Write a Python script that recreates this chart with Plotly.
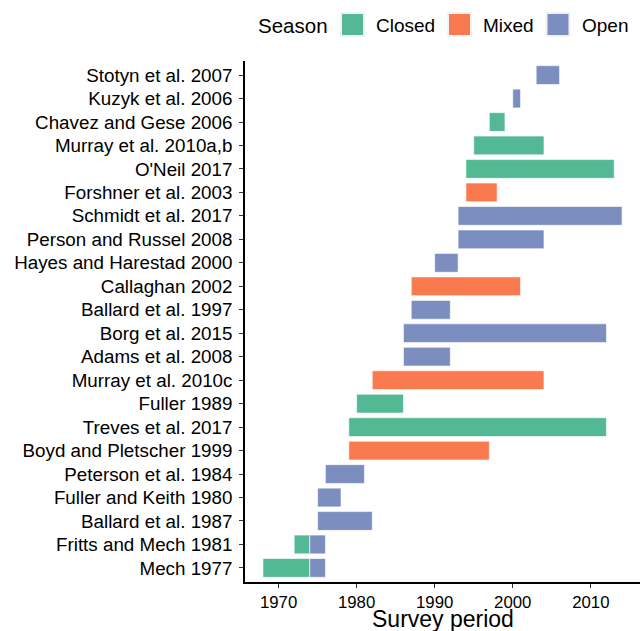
import plotly.graph_objects as go

# ---- data ----
studies = [
    "Stotyn et al. 2007", "Kuzyk et al. 2006", "Chavez and Gese 2006",
    "Murray et al. 2010a,b", "O'Neil 2017", "Forshner et al. 2003",
    "Schmidt et al. 2017", "Person and Russel 2008", "Hayes and Harestad 2000",
    "Callaghan 2002", "Ballard et al. 1997", "Borg et al. 2015",
    "Adams et al. 2008", "Murray et al. 2010c", "Fuller 1989",
    "Treves et al. 2017", "Boyd and Pletscher 1999", "Peterson et al. 1984",
    "Fuller and Keith 1980", "Ballard et al. 1987", "Fritts and Mech 1981",
    "Mech 1977",
]

seg_study = [
    "Stotyn et al. 2007", "Kuzyk et al. 2006", "Chavez and Gese 2006",
    "Murray et al. 2010a,b", "O'Neil 2017", "Forshner et al. 2003",
    "Schmidt et al. 2017", "Person and Russel 2008", "Hayes and Harestad 2000",
    "Callaghan 2002", "Ballard et al. 1997", "Borg et al. 2015",
    "Adams et al. 2008", "Murray et al. 2010c", "Fuller 1989",
    "Treves et al. 2017", "Boyd and Pletscher 1999", "Peterson et al. 1984",
    "Fuller and Keith 1980", "Ballard et al. 1987",
    "Fritts and Mech 1981", "Fritts and Mech 1981",
    "Mech 1977", "Mech 1977",
]
seg_season = [
    "Open", "Open", "Closed",
    "Closed", "Closed", "Mixed",
    "Open", "Open", "Open",
    "Mixed", "Open", "Open",
    "Open", "Mixed", "Closed",
    "Closed", "Mixed", "Open",
    "Open", "Open",
    "Closed", "Open",
    "Closed", "Open",
]
seg_start = [
    2003, 2000, 1997,
    1995, 1994, 1994,
    1993, 1993, 1990,
    1987, 1987, 1986,
    1986, 1982, 1980,
    1979, 1979, 1976,
    1975, 1975,
    1972, 1974,
    1968, 1974,
]
seg_end = [
    2006, 2001, 1999,
    2004, 2013, 1998,
    2014, 2004, 1993,
    2001, 1992, 2012,
    1992, 2004, 1986,
    2012, 1997, 1981,
    1978, 1982,
    1974, 1976,
    1974, 1976,
]

seasons = ["Closed", "Mixed", "Open"]
season_colors = {"Closed": "#53B994", "Mixed": "#FA7A4F", "Open": "#7C8DC0"}
x_ticks = [1970, 1980, 1990, 2000, 2010]
x_title = "Survey period"
legend_title = "Season"

FONT = "Liberation Sans, Arial, sans-serif"

fig = go.Figure()
for s in seasons:
    idx = [i for i, v in enumerate(seg_season) if v == s]
    fig.add_trace(go.Bar(
        orientation="h",
        y=[seg_study[i] for i in idx],
        base=[seg_start[i] for i in idx],
        x=[seg_end[i] - seg_start[i] for i in idx],
        name=s,
        width=0.8,
        marker=dict(color=season_colors[s], line=dict(color="white", width=0.6)),
        showlegend=False,
    ))

# plot area geometry (pixels) for legend placement
L, R, T, B = 245, 640, 61, 582
W_, H_ = R - L, B - T


def px(x):
    return (x - L) / W_


def py(y):
    return (B - y) / H_


shapes = []
annotations = []
annotations.append(dict(x=px(256), y=py(25), xref="paper", yref="paper",
                        text=legend_title, showarrow=False, xanchor="left",
                        yanchor="middle", font=dict(size=20.5, color="black", family=FONT)))
key_x = {"Closed": 340, "Mixed": 447, "Open": 545.5}
for s in seasons:
    kx = key_x[s]
    shapes.append(dict(type="rect", xref="paper", yref="paper",
                       x0=px(kx), x1=px(kx + 25), y0=py(12), y1=py(37),
                       fillcolor="#F2F2F2", line=dict(width=0)))
    shapes.append(dict(type="rect", xref="paper", yref="paper",
                       x0=px(kx + 2), x1=px(kx + 23), y0=py(14), y1=py(35),
                       fillcolor=season_colors[s], line=dict(width=0)))
    annotations.append(dict(x=px(kx + 34), y=py(25), xref="paper", yref="paper",
                            text=s, showarrow=False, xanchor="left", yanchor="middle",
                            font=dict(size=19, color="black", family=FONT)))

# x-axis title
annotations.append(dict(x=0.5, y=py(619), xref="paper", yref="paper",
                        text=x_title, showarrow=False, xanchor="center", yanchor="middle",
                        font=dict(size=23, color="black", family=FONT)))

fig.update_layout(
    width=640, height=631,
    margin=dict(l=L, r=640 - R, t=T, b=631 - B, autoexpand=False),
    barmode="overlay",
    plot_bgcolor="white", paper_bgcolor="white",
    font=dict(family=FONT, color="black"),
    shapes=shapes, annotations=annotations,
    showlegend=False,
)
fig.update_yaxes(
    type="category",
    categoryorder="array",
    categoryarray=studies[::-1],
    range=[-0.6, len(studies) - 0.4],
    showline=True, linecolor="black", linewidth=1.6,
    ticks="outside", ticklen=4, tickcolor="#333333", tickwidth=1.2,
    tickfont=dict(size=18.8, color="black", family=FONT),
    ticklabelstandoff=3,
    showgrid=False, zeroline=False,
    automargin=False,
)
fig.update_xaxes(
    range=[1965.7, 2016.3],
    tickvals=x_ticks, ticktext=[str(v) for v in x_ticks],
    showline=True, linecolor="black", linewidth=1.6,
    ticks="outside", ticklen=4, tickcolor="#333333", tickwidth=1.2,
    tickfont=dict(size=16.8, color="black", family=FONT),
    showgrid=False, zeroline=False,
    automargin=False,
)

fig.write_html(
    "out.html",
    config={"displayModeBar": False},
    post_script="document.body.style.margin='0';document.body.style.padding='0';",
)
